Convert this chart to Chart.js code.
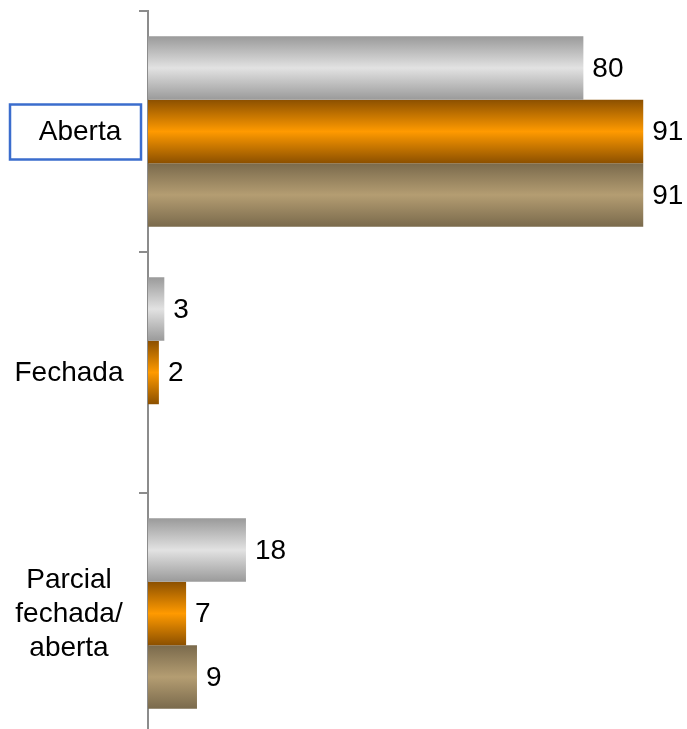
<!DOCTYPE html>
<html lang="pt">
<head>
    <meta charset="UTF-8">
    <title>Aberta / Fechada</title>
    <script src="https://cdn.jsdelivr.net/npm/chart.js"></script>
    <style>
        html, body { margin: 0; padding: 0; background: #fff; overflow: hidden; }
        #barChart { display: block; }
    </style>
</head>
<body>
    <canvas id="barChart" width="687" height="745"></canvas>
    <script>
    // dados
    const categories = [['Aberta'], ['Fechada'], ['Parcial', 'fechada/', 'aberta']];
    const serie1 = [80, 3, 18];
    const serie2 = [91, 2, 7];
    const serie3 = [91, 0, 9];

    // cores do gradiente: borda, meio
    const gradColors = [
        ['#9a9a9a', '#e2e2e2'],
        ['#8c5000', '#ff9a00'],
        ['#7a6a4c', '#b49d72']
    ];

    const FONT = '28px "Liberation Sans", Arial, sans-serif';
    const AXIS = '#8c8c8c';

    const gradientPlugin = {
        id: 'gradientBars',
        beforeDatasetsDraw: (chart) => {
            const ctx = chart.ctx;
            chart.data.datasets.forEach((ds, i) => {
                const meta = chart.getDatasetMeta(i);
                meta.data.forEach((bar) => {
                    const top = bar.y - bar.height / 2;
                    const bottom = bar.y + bar.height / 2;
                    const g = ctx.createLinearGradient(0, top, 0, bottom);
                    g.addColorStop(0, gradColors[i][0]);
                    g.addColorStop(0.5, gradColors[i][1]);
                    g.addColorStop(1, gradColors[i][0]);
                    bar.options.backgroundColor = g;
                });
            });
        }
    };

    const labelPlugin = {
        id: 'labels',
        afterDraw: (chart) => {
            const ctx = chart.ctx;
            const yScale = chart.scales.y;
            ctx.save();
            ctx.font = FONT;
            ctx.fillStyle = '#000';
            ctx.textBaseline = 'middle';

            // valores no fim das barras
            ctx.textAlign = 'left';
            chart.data.datasets.forEach((ds, i) => {
                const meta = chart.getDatasetMeta(i);
                meta.data.forEach((bar, index) => {
                    const v = ds.data[index];
                    if (!v) return;
                    ctx.fillText(String(v), bar.x + 9, bar.y + 1);
                });
            });

            // categorias
            ctx.textAlign = 'center';
            const lineH = 34;
            categories.forEach((lines, i) => {
                const cy = yScale.getPixelForValue(i);
                const cx = i === 0 ? 80 : 69;
                const y0 = cy - (lines.length - 1) * lineH / 2;
                lines.forEach((t, k) => ctx.fillText(t, cx, y0 + k * lineH + 1));
            });

            // caixa azul em "Aberta"
            const cy0 = yScale.getPixelForValue(0);
            ctx.strokeStyle = '#3b6dcd';
            ctx.lineWidth = 2.5;
            ctx.strokeRect(10, cy0 - 27, 131, 55);
            ctx.restore();
        }
    };

    const ctx = document.getElementById('barChart').getContext('2d');
    const barChart = new Chart(ctx, {
        type: 'bar',
        data: {
            labels: categories.map(c => c.join(' ')),
            datasets: [
                { label: 'Série 1', data: serie1 },
                { label: 'Série 2', data: serie2 },
                { label: 'Série 3', data: serie3 }
            ].map(ds => Object.assign(ds, {
                backgroundColor: () => '#999',
                borderWidth: 0,
                barPercentage: 1,
                categoryPercentage: 0.79
            }))
        },
        options: {
            indexAxis: 'y',
            responsive: false,
            animation: false,
            layout: { padding: { top: 11, right: 22, bottom: 11, left: 0 } },
            plugins: {
                legend: { display: false },
                tooltip: { enabled: false }
            },
            scales: {
                x: {
                    display: false,
                    min: 0,
                    max: 95
                },
                y: {
                    offset: true,
                    afterFit: (scale) => { scale.width = 148; },
                    ticks: { display: false },
                    grid: {
                        offset: true,
                        drawOnChartArea: false,
                        drawTicks: true,
                        tickLength: 9,
                        color: AXIS,
                        lineWidth: 2
                    },
                    border: { display: true, color: AXIS, width: 2 }
                }
            }
        },
        plugins: [gradientPlugin, labelPlugin]
    });
    </script>
</body>
</html>
